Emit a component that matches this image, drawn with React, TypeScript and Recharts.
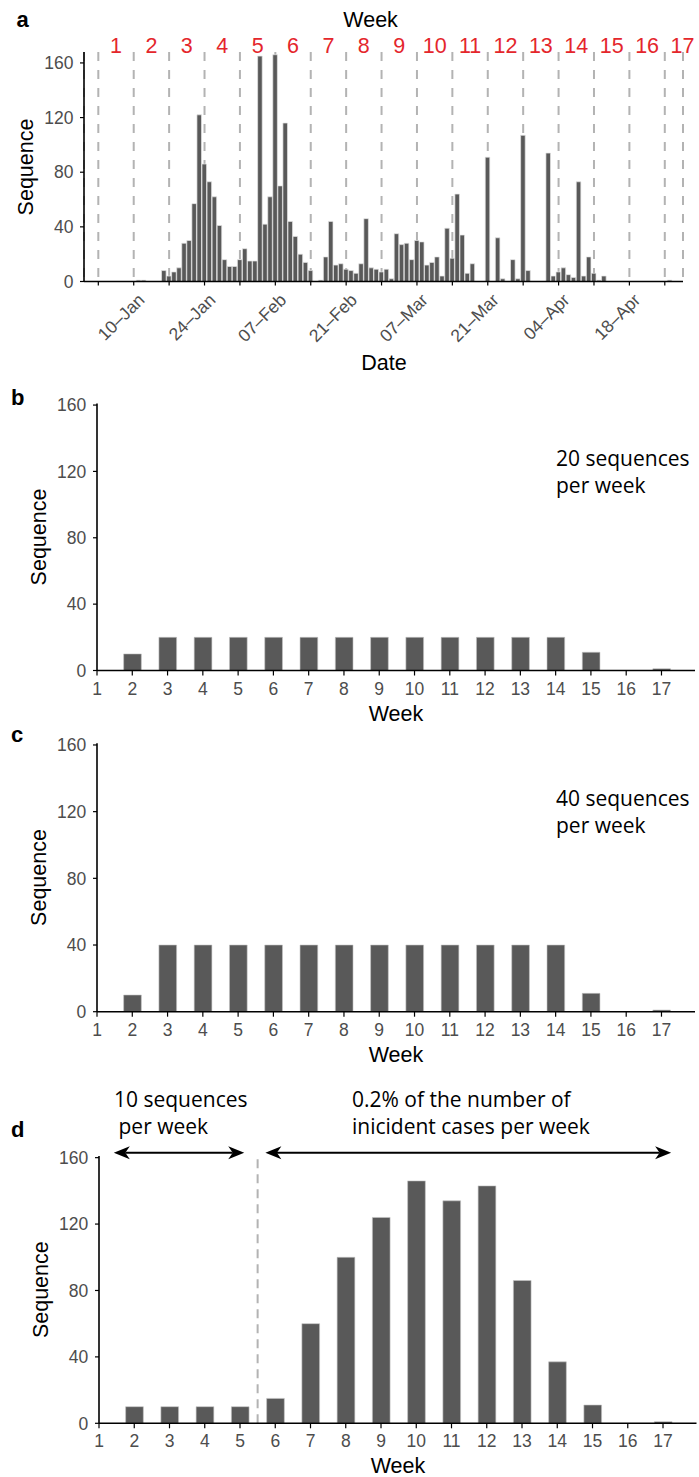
import React from 'react';
import { BarChart, Bar, XAxis, YAxis, ReferenceLine, CartesianGrid } from 'recharts';

const FONT = '"Liberation Sans", Arial, Helvetica, sans-serif';
const NOTE_FONT = '"Open Sans", "Noto Sans", sans-serif';
const BAR_FILL = '#595959';
const TICK_GRAY = '#4d4d4d';
const WEEK_RED = '#e4262c';
const DASH_GRAY = '#b3b3b3';

// daily sequence counts, index 0 = 03-Jan
const dailyCounts = [
  0, 0, 0, 0, 0, 0, 0, 0,
  1, 1, 0, 0, 0,
  8, 4, 7, 10, 28, 30, 57,
  122, 86, 73, 62, 41, 16, 11,
  11, 16, 24, 15, 15, 165, 42,
  62, 166, 70, 116, 44, 33, 20,
  14, 8, 0, 1, 18, 44, 12,
  13, 9, 8, 6, 13, 46, 10,
  9, 7, 9, 2, 35, 27, 28,
  16, 30, 29, 12, 14, 18, 4,
  39, 17, 64, 34, 6, 13, 0,
  0, 91, 0, 32, 2, 0, 16,
  2, 107, 8, 0, 0, 0, 94,
  4, 7, 10, 5, 3, 73, 4,
  18, 6, 1, 4, 0, 0, 0,
  0, 0, 0, 0, 0, 0, 0,
  0, 0, 1,
];

const weekNumbers = [1, 2, 3, 4, 5, 6, 7, 8, 9, 10, 11, 12, 13, 14, 15, 16, 17];
const dateTickDays = [7, 21, 35, 49, 63, 77, 91, 105];
const dateTickLabels = ['10–Jan', '24–Jan', '07–Feb', '21–Feb', '07–Mar', '21–Mar', '04–Apr', '18–Apr'];
const sequenceTicks = [0, 40, 80, 120, 160];

// weekly sampling schemes
const fixed20 = [0, 10, 20, 20, 20, 20, 20, 20, 20, 20, 20, 20, 20, 20, 11, 0, 1];
const fixed40 = [0, 10, 40, 40, 40, 40, 40, 40, 40, 40, 40, 40, 40, 40, 11, 0, 1];
const mixedScheme = [0, 10, 10, 10, 10, 15, 60, 100, 124, 146, 134, 143, 86, 37, 11, 0, 1];

const dailyData = dailyCounts.map((n, day) => ({ day, n }));
const weekStarts = weekNumbers.map((w) => (w - 1) * 7);
const weekMiddles = weekNumbers.map((w) => (w - 1) * 7 + 3.5);
const weeklyRows = (values: number[]) => weekNumbers.map((week, i) => ({ week, n: values[i] }));

const DAY_DOMAIN: [number, number] = [-2.83, 115.6];

const DateTick = (props: any) => {
  const { x, y, payload } = props;
  const idx = dateTickDays.indexOf(payload.value);
  if (idx < 0) return <g />;
  const tx = x + 12;
  const ty = y + 15.5;
  return (
    <text x={tx} y={ty} transform={`rotate(-45 ${tx} ${ty})`} textAnchor="end"
      fontSize={17.5} fill={TICK_GRAY} fontFamily={FONT}>
      {dateTickLabels[idx]}
    </text>
  );
};

const WeekTick = (props: any) => {
  const { x, y, payload } = props;
  const w = weekMiddles.indexOf(payload.value);
  return (
    <text x={x} y={y + 1.3} textAnchor="middle" fontSize={21.5} fill={WEEK_RED} fontFamily={FONT}>
      {weekNumbers[w]}
    </text>
  );
};

const DoubleArrow = (props: any) => {
  const { x1, y1, x2 } = props;
  const y = y1;
  const len = 16;
  const half = 6.5;
  const notch = 4.5;
  return (
    <g>
      <line x1={x1 + len - notch} y1={y} x2={x2 - len + notch} y2={y} stroke="#000" strokeWidth={2} />
      <path d={`M${x1},${y} L${x1 + len},${y - half} L${x1 + len - notch},${y} L${x1 + len},${y + half} Z`} fill="#000" />
      <path d={`M${x2},${y} L${x2 - len},${y - half} L${x2 - len + notch},${y} L${x2 - len},${y + half} Z`} fill="#000" />
    </g>
  );
};

const axisLine = { stroke: '#000', strokeWidth: 1.6 };
const tickLine = { stroke: '#000', strokeWidth: 1.2 };

const DailyPanel = () => (
  <BarChart width={699} height={380} data={dailyData}
    margin={{ top: 8, right: 16, bottom: 0, left: 0 }} style={{ fontFamily: FONT }}>
    {/* week boundaries, drawn under the bars */}
    <CartesianGrid xAxisId="date" horizontal={false} stroke={DASH_GRAY} strokeWidth={2} strokeDasharray="9 9" />
    <XAxis xAxisId="date" dataKey="day" type="number" domain={DAY_DOMAIN} allowDataOverflow
      ticks={weekStarts} interval={0} tick={DateTick} tickSize={4} tickMargin={0} height={98.5}
      axisLine={axisLine} tickLine={tickLine} />
    <XAxis xAxisId="week" orientation="top" dataKey="day" type="number" domain={DAY_DOMAIN} allowDataOverflow
      ticks={weekMiddles} interval={0} tick={WeekTick} tickSize={0} tickMargin={0} height={44}
      axisLine={false} tickLine={false} />
    <YAxis type="number" domain={[0, 168]} allowDataOverflow ticks={sequenceTicks} interval={0}
      width={84} tickSize={4} tickMargin={6.5} axisLine={axisLine} tickLine={tickLine}
      tick={{ fill: TICK_GRAY, fontSize: 17.5, fontFamily: FONT }} />
    <Bar xAxisId="date" dataKey="n" fill={BAR_FILL} stroke="#e4e4e4" strokeWidth={0.7}
      barSize={5.06} isAnimationActive={false} />
  </BarChart>
);

type WeeklyProps = {
  values: number[];
  height: number;
  top: number;
  axisHeight: number;
  left: number;
  right: number;
  children?: React.ReactNode;
};

const WeeklyPanel = ({ values, height, top, axisHeight, left, right, children }: WeeklyProps) => (
  <BarChart width={699} height={height} data={weeklyRows(values)}
    margin={{ top, right, bottom: 0, left: 0 }} style={{ fontFamily: FONT, overflow: 'visible' }}>
    <XAxis dataKey="week" type="number" domain={[1, 17.95]} allowDataOverflow ticks={weekNumbers}
      interval={0} tickSize={5} tickMargin={6.6} height={axisHeight} axisLine={axisLine} tickLine={tickLine}
      tick={{ fill: TICK_GRAY, fontSize: 17.5, fontFamily: FONT }} />
    <YAxis type="number" domain={[0, 161]} allowDataOverflow ticks={sequenceTicks} interval={0}
      width={left} tickSize={4} tickMargin={6.7} axisLine={axisLine} tickLine={tickLine}
      tick={{ fill: TICK_GRAY, fontSize: 17.5, fontFamily: FONT }} />
    {children}
    <Bar dataKey="n" fill={BAR_FILL} stroke="#c4c4c4" strokeWidth={0.6} barSize={17.7}
      isAnimationActive={false} />
  </BarChart>
);

const txt = { fontFamily: FONT, fontSize: 21.5, fill: '#000' };
const note = { fontFamily: NOTE_FONT, fontSize: 21, fill: '#000' };
const tag = { fontFamily: FONT, fontSize: 22, fontWeight: 700, fill: '#000' };

export default function App() {
  return (
    <div style={{ position: 'absolute', left: 0, top: 0, width: 699, height: 1477, background: '#fff' }}>
      <div style={{ position: 'absolute', left: 0, top: 0 }}>
        <DailyPanel />
      </div>
      <div style={{ position: 'absolute', left: 0, top: 380 }}>
        <WeeklyPanel values={fixed20} height={340} top={23.4} axisHeight={49.5} left={97} right={4} />
      </div>
      <div style={{ position: 'absolute', left: 0, top: 720 }}>
        <WeeklyPanel values={fixed40} height={340} top={23.3} axisHeight={48.3} left={97} right={4} />
      </div>
      <div style={{ position: 'absolute', left: 0, top: 1100 }}>
        <WeeklyPanel values={mixedScheme} height={377} top={56} axisHeight={53.7} left={99} right={2.5}>
          <ReferenceLine x={5.5} stroke={DASH_GRAY} strokeWidth={2} strokeDasharray="9 6" />
          <ReferenceLine ifOverflow="visible" segment={[{ x: 1.42, y: 163 }, { x: 5.12, y: 163 }]} shape={DoubleArrow} />
          <ReferenceLine ifOverflow="visible" segment={[{ x: 5.72, y: 163 }, { x: 17.23, y: 163 }]} shape={DoubleArrow} />
        </WeeklyPanel>
      </div>
      <svg width={699} height={1477} style={{ position: 'absolute', left: 0, top: 0, pointerEvents: 'none' }}>
        {/* panel a */}
        <text x={16.5} y={26.7} {...tag}>a</text>
        <text x={370.6} y={26.7} textAnchor="middle" {...txt}>Week</text>
        <text x={384} y={370} textAnchor="middle" {...txt}>Date</text>
        <text x={32.5} y={167} textAnchor="middle" transform="rotate(-90 32.5 167)" {...txt}>Sequence</text>
        {/* panel b */}
        <text x={11} y={405} {...tag}>b</text>
        <text x={45.7} y={537} textAnchor="middle" transform="rotate(-90 45.7 537)" {...txt}>Sequence</text>
        <text x={396} y={720.5} textAnchor="middle" {...txt}>Week</text>
        <text x={556} y={466} {...note}>20 sequences</text>
        <text x={556} y={492.5} {...note}>per week</text>
        {/* panel c */}
        <text x={11} y={741.7} {...tag}>c</text>
        <text x={45.5} y={877.5} textAnchor="middle" transform="rotate(-90 45.5 877.5)" {...txt}>Sequence</text>
        <text x={396} y={1061.7} textAnchor="middle" {...txt}>Week</text>
        <text x={556} y={806} {...note}>40 sequences</text>
        <text x={556} y={832.5} {...note}>per week</text>
        {/* panel d */}
        <text x={11} y={1136.7} {...tag}>d</text>
        <text x={47.7} y={1289.7} textAnchor="middle" transform="rotate(-90 47.7 1289.7)" {...txt}>Sequence</text>
        <text x={398} y={1473.3} textAnchor="middle" {...txt}>Week</text>
        <text x={114} y={1106.7} {...note}>10 sequences</text>
        <text x={118.5} y={1134} {...note}>per week</text>
        <text x={352} y={1106.7} {...note}>0.2% of the number of</text>
        <text x={352} y={1134} {...note}>inicident cases per week</text>
      </svg>
    </div>
  );
}
